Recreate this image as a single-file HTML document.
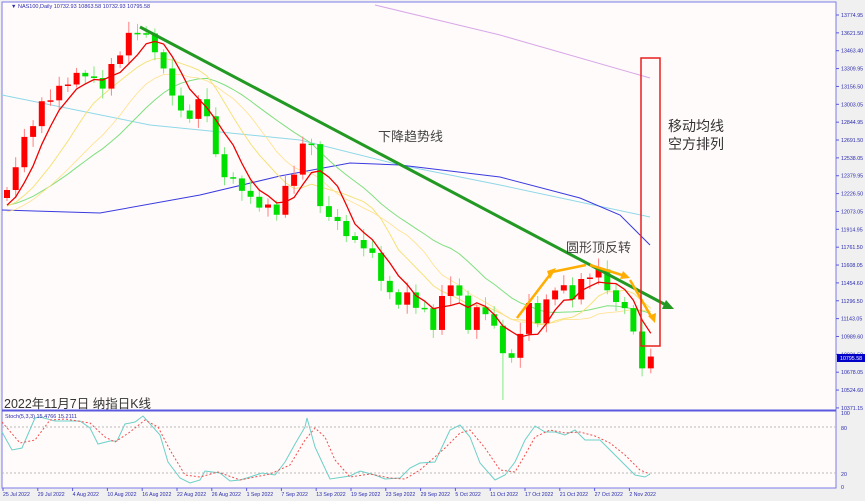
<!DOCTYPE html>
<html><head><meta charset="utf-8">
<style>
html,body{margin:0;padding:0;background:#f0f0f0;}
svg{display:block;}
text{font-family:"Liberation Sans","Noto Sans CJK SC",sans-serif;}
</style></head>
<body>
<svg id="s" width="865" height="501" xmlns="http://www.w3.org/2000/svg">
<rect x="0" y="0" width="865" height="501" fill="#f0f0f0"/>
<rect x="2" y="2" width="834" height="408" fill="#fffbfa" stroke="#7b7bea" stroke-width="1"/>
<rect x="2" y="411" width="834" height="77" fill="#fffbfa" stroke="#7b7bea" stroke-width="1"/>
<line x1="2" y1="410.5" x2="836" y2="410.5" stroke="#5a5ae0" stroke-width="2"/>
<g id="g"></g>
<text x="11" y="8" font-size="5.5" fill="#2b2bb0">▼ NAS100,Daily  10732.93 10863.58 10732.93 10795.58</text>
<text x="4" y="408" font-size="12.5" fill="#333">2022年11月7日 纳指日K线</text>
<text x="5" y="418" font-size="5.5" fill="#2b2bb0">Stoch(5,3,3) 15.4766 15.2111</text>
<text x="378" y="141" font-size="13" fill="#444">下降趋势线</text>
<text x="566" y="252" font-size="13" fill="#444">圆形顶反转</text>
<text x="668" y="131" font-size="14" fill="#333">移动均线</text>
<text x="668" y="149" font-size="14" fill="#333">空方排列</text>
</svg>
<script>
var ns="http://www.w3.org/2000/svg",g=document.getElementById('g');
function el(t,a,p){var e=document.createElementNS(ns,t);for(var k in a)e.setAttribute(k,a[k]);(p||g).appendChild(e);return e;}
function pl(pts,c,w,extra){var a={points:pts.map(function(p){return p.join(',')}).join(' '),fill:'none',stroke:c,'stroke-width':w};for(var k in extra)a[k]=extra[k];return el('polyline',a);}
var labs=["13774.95","13621.50","13463.40","13309.95","13156.50","13003.05","12844.95","12691.50","12538.05","12379.95","12226.50","12073.05","11914.95","11761.50","11608.05","11454.60","11296.50","11143.05","10989.60","10831.50","10678.05","10524.60","10371.15"];
labs.forEach(function(l,i){var y=15+i*17.86;el('line',{x1:836,y1:y,x2:839,y2:y,stroke:'#5a5ae0'});el('text',{x:841,y:y+2,'font-size':5.3,fill:'#2b2bb0'}).textContent=l;});
el('rect',{x:837,y:354,width:28,height:8,fill:'#0000c8'});
el('text',{x:840,y:360,'font-size':5.3,fill:'#fff'}).textContent="10795.58";
[["100",413],["80",428],["20",474],["0",487]].forEach(function(a){el('text',{x:841,y:a[1]+2,'font-size':5.3,fill:'#2b2bb0'}).textContent=a[0];});
el('line',{x1:2,y1:427,x2:836,y2:427,stroke:'#bbb','stroke-dasharray':'2,2'});
el('line',{x1:2,y1:473,x2:836,y2:473,stroke:'#bbb','stroke-dasharray':'2,2'});
var dates=["25 Jul 2022","29 Jul 2022","4 Aug 2022","10 Aug 2022","16 Aug 2022","22 Aug 2022","26 Aug 2022","1 Sep 2022","7 Sep 2022","13 Sep 2022","19 Sep 2022","23 Sep 2022","29 Sep 2022","5 Oct 2022","11 Oct 2022","17 Oct 2022","21 Oct 2022","27 Oct 2022","2 Nov 2022"];
dates.forEach(function(d,i){var x=3+i*34.8;el('line',{x1:x,y1:488,x2:x,y2:491,stroke:'#5a5ae0'});el('text',{x:x,y:496,'font-size':5.2,fill:'#2b2bb0'}).textContent=d;});
pl([[375,5],[500,35],[650,78]],'#d8a8e8',1);
pl([[2,95],[150,125],[300,140],[400,165],[500,185],[650,217]],'#8ed8e8',1);
pl([[2,210],[100,213],[200,195],[280,176],[350,163],[400,165],[500,177],[580,198],[620,215],[650,245]],'#3a3ae0',1);
var K=[[7,190],[20,150],[40,105],[60,90],[75,75],[90,70],[100,90],[115,60],[125,40],[133,30],[140,30],[155,50],[170,85],[180,110],[190,115],[200,100],[210,115],[215,155],[225,175],[235,185],[245,190],[255,205],[265,200],[275,215],[285,190],[298,160],[310,125],[318,210],[330,215],[345,230],[355,240],[365,245],[375,260],[385,285],[395,305],[405,295],[415,305],[425,310],[432,330],[440,300],[450,280],[460,300],[470,330],[480,300],[490,320],[500,345],[510,365],[520,330],[530,300],[540,325],[550,290],[560,280],[570,300],[580,285],[590,275],[598,270],[610,290],[620,310],[628,300],[635,345],[643,365],[652,358]];
function ip(x){if(x<=K[0][0])return K[0][1];for(var i=1;i<K.length;i++)if(x<=K[i][0]){var a=K[i-1],b=K[i];return a[1]+(b[1]-a[1])*(x-a[0])/(b[0]-a[0]);}return K[K.length-1][1];}
var N=75,dx=8.7,Y=[],J=[0,5,-4,7,-3,4,-6,3,-2,6];
for(var i=0;i<N;i++)Y.push(ip(7+i*dx)+J[i%10]*0.8);
var pre=[];for(var i=0;i<25;i++)pre.push(200+i*0.4);
var all=pre.concat(Y);
function ma(n){var r=[];for(var i=0;i<N;i++){var s=0;for(var j=0;j<n;j++)s+=all[25+i-j];r.push([7+i*dx,s/n]);}return r;}
pl(ma(20),'#7ee07e',1);pl(ma(10),'#f5e27a',1);pl(ma(15).map(function(p){return[p[0],p[1]+6]}),'#ffe08a',0.8);
for(var i=0;i<N;i++){var x=7+i*dx,c=Y[i],o=i?Y[i-1]:Y[0]+8;var up=c<o;var col=up?'#ff0000':'#00e000';var t=Math.min(o,c),b=Math.max(o,c);if(b-t<1.5)b=t+1.5;
var wt=t-3-((i*7)%9),wb=b+3+((i*5)%8);if(i==57)wb=400;
el('line',{x1:x,y1:wt,x2:x,y2:wb,stroke:up?'#ff8080':'#80e880','stroke-width':1});
el('rect',{x:x-3,y:t,width:6,height:b-t,fill:col});}
pl(ma(5),'#ee0000',1.3);
el('line',{x1:140,y1:27,x2:666,y2:305,stroke:'#229922','stroke-width':3});
el('polygon',{points:'674,309 662,309 666,300',fill:'#229922'});
pl([[517,318],[552,272],[586,265]],'#ffad00',2.5);
pl([[590,265],[625,276]],'#ffad00',2.5);el('polygon',{points:'630,278 620,279 623,271',fill:'#ffad00'});
pl([[630,280],[652,318]],'#ffad00',2.5);el('polygon',{points:'655,323 648,316 656,313',fill:'#ffad00'});
el('polygon',{points:'556,268 547,271 550,279',fill:'#ffad00'});
el('rect',{x:641,y:58,width:19,height:288,fill:'none',stroke:'#e82020','stroke-width':1.5});
pl([[2,432],[12,450],[22,448],[35,418],[40,417],[55,421],[80,421],[90,428],[98,444],[110,441],[117,441],[125,424],[135,422],[143,416],[160,435],[168,462],[180,478],[190,483],[200,480],[205,471],[220,473],[230,481],[240,480],[250,477],[262,473],[275,475],[285,462],[295,444],[305,427],[307,418],[315,447],[322,462],[330,479],[350,476],[360,471],[375,475],[385,479],[400,478],[410,468],[420,463],[435,462],[450,430],[460,425],[470,437],[480,463],[495,480],[505,475],[515,462],[525,440],[535,426],[545,432],[555,432],[565,435],[575,430],[585,440],[600,440],[610,450],[625,465],[635,475],[645,477],[650,474]],'#6cd0c8',1);
pl([[2,422],[20,443],[35,440],[50,420],[65,419],[90,423],[105,437],[115,442],[130,432],[145,420],[158,427],[170,450],[185,475],[200,477],[218,472],[240,480],[270,474],[290,465],[305,440],[315,428],[325,437],[335,460],[350,477],[370,474],[390,478],[405,479],[420,470],[445,448],[460,433],[470,430],[485,448],[500,470],[515,472],[525,455],[535,437],[550,430],[565,433],[580,432],[595,436],[610,443],[625,455],[640,470],[650,474]],'#f05050',1,{'stroke-dasharray':'2,2'});
</script>
</body></html>
